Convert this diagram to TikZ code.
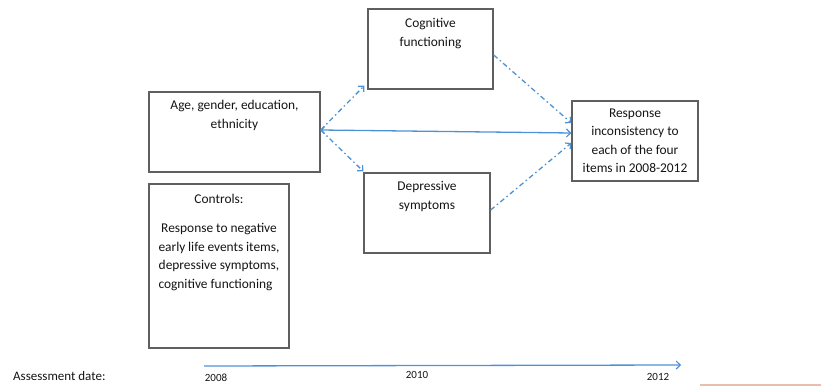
\documentclass[tikz,border=0pt]{standalone}
\usepackage{fontspec}
\setmainfont{Carlito}
\usetikzlibrary{arrows.meta}
\definecolor{arrowblue}{RGB}{78,146,214}
\definecolor{boxgrey}{RGB}{95,95,95}
\definecolor{txtgrey}{RGB}{20,20,20}
\definecolor{salmon}{RGB}{232,190,172}
\begin{document}
\begin{tikzpicture}[x=1pt,y=-1pt,
  box/.style={draw=boxgrey,line width=1.4pt,rectangle,inner sep=0pt},
  txt/.style={text=txtgrey,font=\fontsize{13.4}{18.5}\selectfont,align=center,inner sep=0pt},
  yr/.style={text=txtgrey,font=\fontsize{11}{12}\selectfont,inner sep=0pt},
  tip/.style={-{Straight Barb[length=4pt,width=8pt,line width=1.2pt]}},
  solidarrow/.style={draw=arrowblue,line width=1.3pt},
  dasharrow/.style={draw=arrowblue,line width=1.3pt,dash pattern=on 5pt off 3pt on 1.5pt off 3pt}]
\useasboundingbox (0,0) rectangle (821,387);
% boxes
\node[box,minimum width=125pt,minimum height=80pt] (cog) at (430.5,49) {};
\node[box,minimum width=171pt,minimum height=80pt] (age) at (234.5,132) {};
\node[box,minimum width=126pt,minimum height=80pt] (dep) at (427,213) {};
\node[box,minimum width=140pt,minimum height=164pt] (ctrl) at (219,266) {};
\node[box,minimum width=126pt,minimum height=80pt] (resp) at (635,141) {};
% texts
\node[txt,anchor=north] (cogt) at ([yshift=-10pt]cog.north) {Cognitive\\functioning};
\node[txt,anchor=north] (aget) at ([yshift=-9pt]age.north) {Age, gender, education,\\ethnicity};
\node[txt,anchor=north] (dept) at ([yshift=-9pt]dep.north) {Depressive\\symptoms};
\node[txt] (respt) at (resp.center) {Response\\inconsistency to\\each of the four\\items in 2008-2012};
\node[txt,anchor=north] (ctrlh) at ([yshift=-11pt]ctrl.north) {Controls:};
\node[txt,anchor=north,align=left] (ctrlt) at ([yshift=-40pt]ctrl.north) {\parbox{121pt}{\centering Response to negative\\early life events items,\\depressive symptoms,\par\raggedright cognitive functioning}};
% connectors
\coordinate (src) at ([yshift=2pt]age.east);
\draw[dasharrow,tip] (src) -- ([xshift=-3pt,yshift=4pt]cog.south west);
\draw[dasharrow,tip] (src) -- ([yshift=1pt]dep.north west);
\draw[solidarrow,{Straight Barb[length=3pt,width=7pt,line width=1.2pt]}-{Straight Barb[length=4pt,width=8pt,line width=1.2pt]}] (src) -- ([yshift=8pt]resp.west);
\draw[dasharrow,tip] ([yshift=-6pt]cog.east) -- ([yshift=18pt]resp.west);
\draw[dasharrow,tip] ([yshift=3pt]dep.east) -- ([yshift=-2pt]resp.west);
% timeline
\node[yr,anchor=west,font=\fontsize{13}{15}\selectfont] (ad) at (13,376) {Assessment date:};
\node[yr] (y08) at (216,378) {2008};
\node[yr] (y10) at (417,375) {2010};
\node[yr] (y12) at (658,377) {2012};
\coordinate (tstart) at (204,366);
\coordinate (tend) at (681,365);
\draw[solidarrow,tip] (tstart) -- (tend);
\draw[salmon,line width=1.5pt] (700,385) -- (821,385);
\end{tikzpicture}
\end{document}
